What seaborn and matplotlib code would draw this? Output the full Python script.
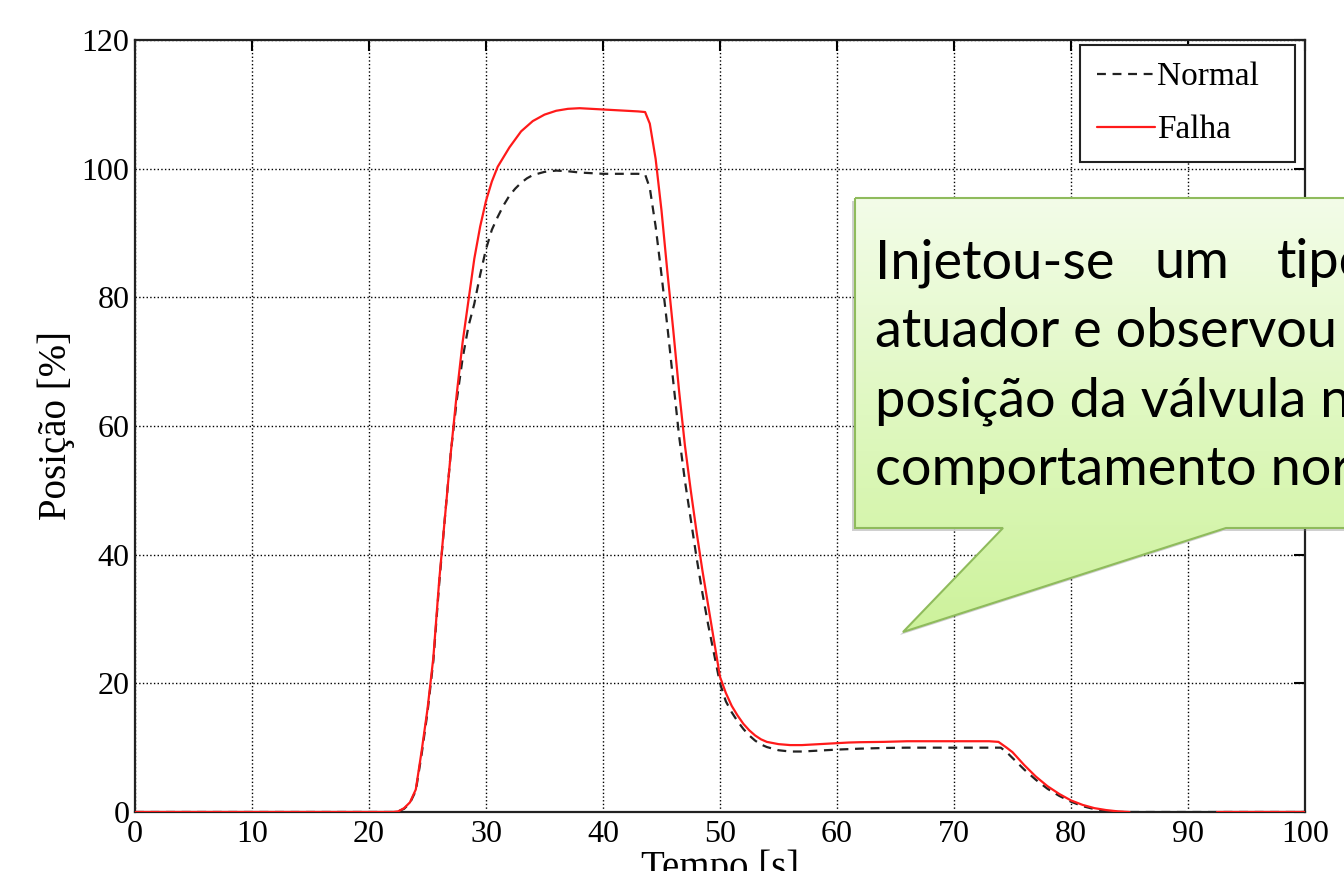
import numpy as np
import pandas as pd
import matplotlib.pyplot as plt
import seaborn as sns
from matplotlib.lines import Line2D
from matplotlib.patches import Polygon
from matplotlib.colors import LinearSegmentedColormap

# tempo [s] e posição [%]
tempo_normal = [0, 5, 10, 15, 20, 22, 22.5, 23, 23.5, 24, 24.5, 25, 25.5, 26, 26.5, 27,
                27.5, 28, 28.5, 29, 29.5, 30, 30.5, 31, 31.5, 32, 32.5, 33, 33.5, 34,
                35, 36, 37, 38, 39, 40, 42, 43, 43.6, 44, 44.5, 45, 45.5, 46, 46.5, 47,
                47.5, 48, 48.5, 49, 49.5, 50, 50.5, 51, 51.5, 52, 52.5, 53, 53.5, 54,
                55, 56, 57, 58, 59, 60, 62, 64, 66, 70, 74, 74.5, 75, 76, 77, 78, 79,
                80, 81, 82, 83, 84, 90, 100]
pos_normal = [0, 0, 0, 0, 0, 0, 0.1, 0.5, 1.4, 3.3, 9, 15.5, 23.5, 35.5, 46, 56,
              64, 70.5, 75.5, 79, 83.5, 87.5, 90.5, 92.5, 94.3, 95.8, 96.9, 97.8, 98.5, 99.0,
              99.5, 99.7, 99.6, 99.4, 99.3, 99.2, 99.2, 99.2, 99.1, 97, 91, 83.5, 75.5, 67, 58.5, 51.5,
              45.5, 39.5, 34, 29, 24.5, 20, 17.2, 15.5, 14.1, 12.9, 11.9, 11.1, 10.5, 10.1,
              9.6, 9.4, 9.4, 9.5, 9.6, 9.7, 9.85, 9.95, 10.0, 10.0, 10.0, 9.3, 8.4, 6.6, 5.0, 3.6, 2.5,
              1.6, 0.9, 0.45, 0.15, 0, 0, 0]

tempo_falha = [0, 5, 10, 15, 20, 22, 22.5, 23, 23.5, 24, 24.5, 25, 25.5, 26, 26.5, 27,
               27.5, 28, 28.5, 29, 29.5, 30, 30.5, 31, 32, 33, 34, 35, 36, 37, 38, 39,
               40, 41, 42, 43, 43.6, 44, 44.5, 45, 45.5, 46, 46.5, 47, 47.5, 48, 48.5,
               49, 49.5, 50, 50.5, 51, 51.5, 52, 52.5, 53, 53.5, 54, 55, 56, 57, 58, 59,
               60, 61, 62, 64, 66, 70, 73, 73.8, 74.5, 75, 76, 77, 78, 79, 80, 81, 82,
               83, 84, 85, 92.5, 95, 100]
pos_falha = [0, 0, 0, 0, 0, 0, 0.1, 0.6, 1.5, 3.5, 9.5, 16, 24, 36, 46, 56,
             65, 73, 79.5, 86, 91, 95, 98, 100.3, 103.3, 105.8, 107.4, 108.4, 109.0, 109.3, 109.4, 109.3,
             109.2, 109.1, 109.0, 108.9, 108.8, 107, 101.5, 93.5, 84, 75, 65.5, 57, 50, 43.5, 37.5,
             32, 26.5, 21, 18.5, 16.5, 15, 13.7, 12.7, 11.9, 11.3, 10.9, 10.55, 10.4, 10.4, 10.5, 10.6,
             10.7, 10.8, 10.85, 10.9, 11.0, 11.0, 11.0, 10.9, 10.0, 9.3, 7.3, 5.5, 4.0, 2.8, 1.8, 1.1, 0.6,
             0.3, 0.1, 0, 0, 0, 0]
# a curva vermelha some entre 85 s e 92.5 s
trecho_falha = [0 if t <= 85 else 1 for t in tempo_falha]

x_ticks = [0, 10, 20, 30, 40, 50, 60, 70, 80, 90, 100]
y_ticks = [0, 20, 40, 60, 80, 100, 120]

texto_balao = ["atuador e observou", "posição da válvula n", "comportamento nor"]
palavras_linha1 = ["Injetou-se", "um", "tipo"]

df_normal = pd.DataFrame({"Tempo": tempo_normal, "Posicao": pos_normal})
df_falha = pd.DataFrame({"Tempo": tempo_falha, "Posicao": pos_falha, "trecho": trecho_falha})

sns.set_style("white")
plt.rcParams["font.family"] = ["Liberation Serif", "DejaVu Serif"]
plt.rcParams["text.color"] = "black"
plt.rcParams["axes.labelcolor"] = "black"

fig = plt.figure(figsize=(13.44, 8.71), dpi=100)
ax = fig.add_axes([135 / 1344, 1 - 812 / 871, 1170 / 1344, 772 / 871])

sns.lineplot(data=df_normal, x="Tempo", y="Posicao", ax=ax, color="#222222",
             linewidth=1.6, legend=False, zorder=2)
ax.lines[-1].set_linestyle((0, (4, 3)))
sns.lineplot(data=df_falha, x="Tempo", y="Posicao", units="trecho", estimator=None,
             ax=ax, color="#ff1a1a", linewidth=1.6, legend=False, zorder=3)

ax.set_xlim(0, 100)
ax.set_ylim(0, 120)
ax.set_xticks(x_ticks)
ax.set_yticks(y_ticks)
ax.grid(True, linestyle=":", color="black", linewidth=1.0)
ax.tick_params(direction="in", top=True, right=True, length=8, width=1.5,
               labelsize=23, colors="black", pad=6)
ax.tick_params(axis="y", pad=4)
for s in ax.spines.values():
    s.set_color("#222222")
    s.set_linewidth(1.6)
ax.set_xlabel("Tempo [s]", fontsize=28, labelpad=0)
ax.set_ylabel("Posição [%]", fontsize=28, labelpad=5)

handles = [Line2D([], [], color="#222222", lw=1.6, linestyle=(0, (4, 3))),
           Line2D([], [], color="#ff1a1a", lw=1.6)]
leg = ax.legend(handles, ["Normal", "Falha"], loc="upper right", mode="expand",
                bbox_to_anchor=(0.8077, 0.0, 0.1838, 0.9935), borderaxespad=0,
                fontsize=24, fancybox=False, framealpha=1, edgecolor="#222222",
                handlelength=1.75, handletextpad=0.05, labelspacing=0.68,
                borderpad=0.5)
leg.get_frame().set_linewidth(1.5)

# balão de texto por cima do gráfico (coordenadas em pixels)
ov = fig.add_axes([0, 0, 1, 1], zorder=10)
ov.axis("off")
ov.patch.set_alpha(0)
contorno = [(855, 198), (1360, 198), (1360, 528), (1226, 528), (903, 632),
            (1003, 528), (855, 528)]
sombra = Polygon([(x - 3, y + 3) for x, y in contorno], closed=True,
                 facecolor="#7a7a7a", edgecolor="none", alpha=0.35)
ov.add_patch(sombra)
balao = Polygon(contorno, closed=True, facecolor="none", edgecolor="#8fbb5c", lw=1.5)
ov.add_patch(balao)
verde = LinearSegmentedColormap.from_list("verde", ["#f3fce9", "#dff8c0", "#cdf29b"])
img = ov.imshow(np.linspace(0, 1, 256).reshape(-1, 1), cmap=verde, aspect="auto",
                extent=(850, 1365, 635, 195), zorder=1)
img.set_clip_path(balao)
balao.set_zorder(2)

fonte = ["Lato", "DejaVu Sans"]
for palavra, x in zip(palavras_linha1, [875, 1155, 1277]):
    ov.text(x, 278, palavra, fontsize=39, family=fonte, va="baseline", ha="left",
            color="black", zorder=3)
for i, linha in enumerate(texto_balao):
    ov.text(875, 347 + i * 69, linha, fontsize=39, family=fonte, va="baseline",
            ha="left", color="black", zorder=3)
ov.set_xlim(0, 1344)
ov.set_ylim(871, 0)

fig.savefig("out.png", dpi=100)
